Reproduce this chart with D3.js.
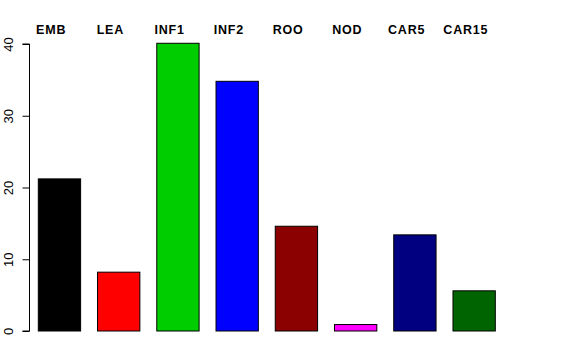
<!DOCTYPE html>
<html><head><meta charset="utf-8">
<script src="https://cdn.jsdelivr.net/npm/d3@7"></script>
<style>body{margin:0;background:#fff}svg{display:block}</style>
</head><body>
<svg id="chart" width="576" height="360"></svg>
<script>
const categories = ["EMB","LEA","INF1","INF2","ROO","NOD","CAR5","CAR15"];
const values = [21.2, 8.2, 40.1, 34.8, 14.6, 0.9, 13.4, 5.6];
const colors = ["#000000","#FF0000","#00CD00","#0000FF","#8B0000","#FF00FF","#000080","#006400"];
const yTicks = [0, 10, 20, 30, 40];

const svg = d3.select("#chart");
const y = d3.scaleLinear().domain([0, 40]).range([331, 44]);
const x = d3.scaleBand().domain(categories).range([38.3, 495.3])
  .paddingInner(0.4/1.4).paddingOuter(0);

svg.selectAll("rect.bar").data(categories).enter().append("rect")
  .attr("class","bar")
  .attr("x", d => x(d))
  .attr("width", x.bandwidth())
  .attr("y", (d,i) => y(values[i]))
  .attr("height", (d,i) => y(0) - y(values[i]))
  .attr("fill", (d,i) => colors[i])
  .attr("stroke", "#000").attr("stroke-width", 1);

svg.selectAll("text.lab").data(categories).enter().append("text")
  .attr("class","lab")
  .attr("x", d => x(d) + x.bandwidth()/2 - 8.3)
  .attr("y", 34)
  .attr("text-anchor","middle")
  .attr("font-family","Liberation Sans, Arial, sans-serif")
  .attr("font-weight","bold")
  .attr("font-size", 12.5)
  .attr("letter-spacing", "0.8px")
  .text(d => d);

const axis = d3.axisLeft(y).tickValues(yTicks).tickSize(7).tickPadding(4).tickFormat(d3.format("d"));
const g = svg.append("g").attr("transform","translate(29.5,0)").call(axis);
g.select(".domain").attr("d", `M-7,${y(0)}H0V${y(40)}H-7`).attr("stroke","#000");
g.selectAll(".tick line").remove();
g.selectAll(".tick text")
  .attr("font-family","Liberation Sans, Arial, sans-serif")
  .attr("font-size", 13)
  .attr("fill","#000")
  .attr("text-anchor","middle")
  .attr("x", null).attr("dy", null)
  .attr("transform","translate(-16.8,0) rotate(-90)");
g.selectAll(".tick").append("line").attr("x1",-7).attr("x2",0).attr("stroke","#000");
</script>
</body></html>
